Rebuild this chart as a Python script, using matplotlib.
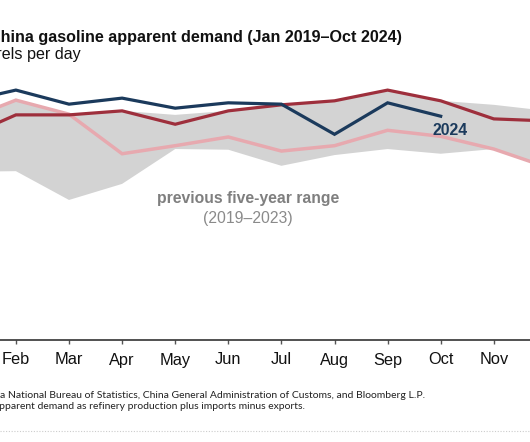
import matplotlib.pyplot as plt
from matplotlib.lines import Line2D
import numpy as np

plt.rc('font', **{'family': 'sans-serif', 'sans-serif': ['Liberation Sans', 'DejaVu Sans']})

W, H = 530, 442

# million barrels per day
months = ['Jan', 'Feb', 'Mar', 'Apr', 'May', 'Jun', 'Jul', 'Aug', 'Sep', 'Oct', 'Nov', 'Dec']
demand_2024 = [3.55, 3.73, 3.52, 3.61, 3.46, 3.54, 3.52, 3.07, 3.54, 3.34]
demand_2023 = [3.01, 3.36, 3.36, 3.42, 3.22, 3.42, 3.51, 3.57, 3.73, 3.57, 3.30, 3.27]
demand_2022 = [3.27, 3.58, 3.37, 2.78, 2.90, 3.03, 2.82, 2.90, 3.13, 3.04, 2.85, 2.58]
range_high = [3.27, 3.58, 3.37, 3.42, 3.36, 3.42, 3.51, 3.57, 3.73, 3.57, 3.51, 3.42]
range_low = [2.51, 2.52, 2.09, 2.33, 2.85, 2.84, 2.60, 2.76, 2.85, 2.78, 2.85, 2.58]

navy = '#1b3a5c'
red = '#9e2f3c'
pink = '#e7a9af'
band = '#d3d3d3'


def px(x, y):
    # pixel position -> figure fraction
    return x / W, 1 - y / H


fig = plt.figure(figsize=(W / 100, H / 100), dpi=100)

# axes runs past both edges of the picture (the reference is a crop)
step = 53.1
jan_x = -37.2
left = jan_x - 0.7 * step
right = jan_x + 11.7 * step
top, bottom = 72, 340
ax = fig.add_axes([left / W, 1 - bottom / H, (right - left) / W, (bottom - top) / H])

x = np.arange(1, 13)
ax.fill_between(x, range_low, range_high, color=band, lw=0, zorder=1)
ax.plot(x, demand_2022, color=pink, lw=2.5, solid_joinstyle='miter', zorder=2)
ax.plot(x, demand_2023, color=red, lw=2.3, solid_joinstyle='miter', zorder=3)
ax.plot(x[:len(demand_2024)], demand_2024, color=navy, lw=2.3, solid_joinstyle='miter', zorder=4)

ax.set_xlim(0.3, 12.7)
ax.set_ylim(0, 4)
ax.set_xticks(x)
ax.set_xticklabels(months, fontsize=11.8, color='#111111')
ax.tick_params(axis='x', length=3, width=1, color='#555555', pad=6)
ax.set_yticks([])
for s in ['top', 'left', 'right']:
    ax.spines[s].set_visible(False)
ax.spines['bottom'].set_color('#333333')
ax.spines['bottom'].set_linewidth(1.2)

ax.text(10.17, 3.13, '2024', color=navy, fontsize=11.4, fontweight='bold',
        ha='center', va='center')
ax.text(6.37, 2.11, 'previous five-year range', color='#7f7f7f', fontsize=11.3,
        fontweight='bold', ha='center', va='center')
ax.text(6.37, 1.81, '(2019\u20132023)', color='#8a8a8a', fontsize=11.3,
        ha='center', va='center')

# title and subtitle, cut at the left edge like the reference
fig.text(*px(402, 42), 'China gasoline apparent demand (Jan 2019\u2013Oct 2024)',
         fontsize=11.6, fontweight='bold', ha='right', va='baseline', color='#111111')
fig.text(*px(81, 59), 'million barrels per day', fontsize=11.6,
         ha='right', va='baseline', color='#111111')

# footnotes
fig.text(*px(425, 398), 'Data source: China National Bureau of Statistics, China General '
         'Administration of Customs, and Bloomberg L.P.', fontsize=7.5,
         family=['Lato', 'DejaVu Sans'], ha='right', va='baseline', color='#222222')
fig.text(*px(305, 409), 'Note: EIA calculates apparent demand as refinery production '
         'plus imports minus exports.', fontsize=7.5,
         family=['Lato', 'DejaVu Sans'], ha='right', va='baseline', color='#222222')

fig.add_artist(Line2D([0, 1], [1 - 431 / H, 1 - 431 / H], color='#cccccc',
                      lw=0.8, ls=(0, (1, 1.5)), transform=fig.transFigure))

fig.savefig('out.png', dpi=100)
